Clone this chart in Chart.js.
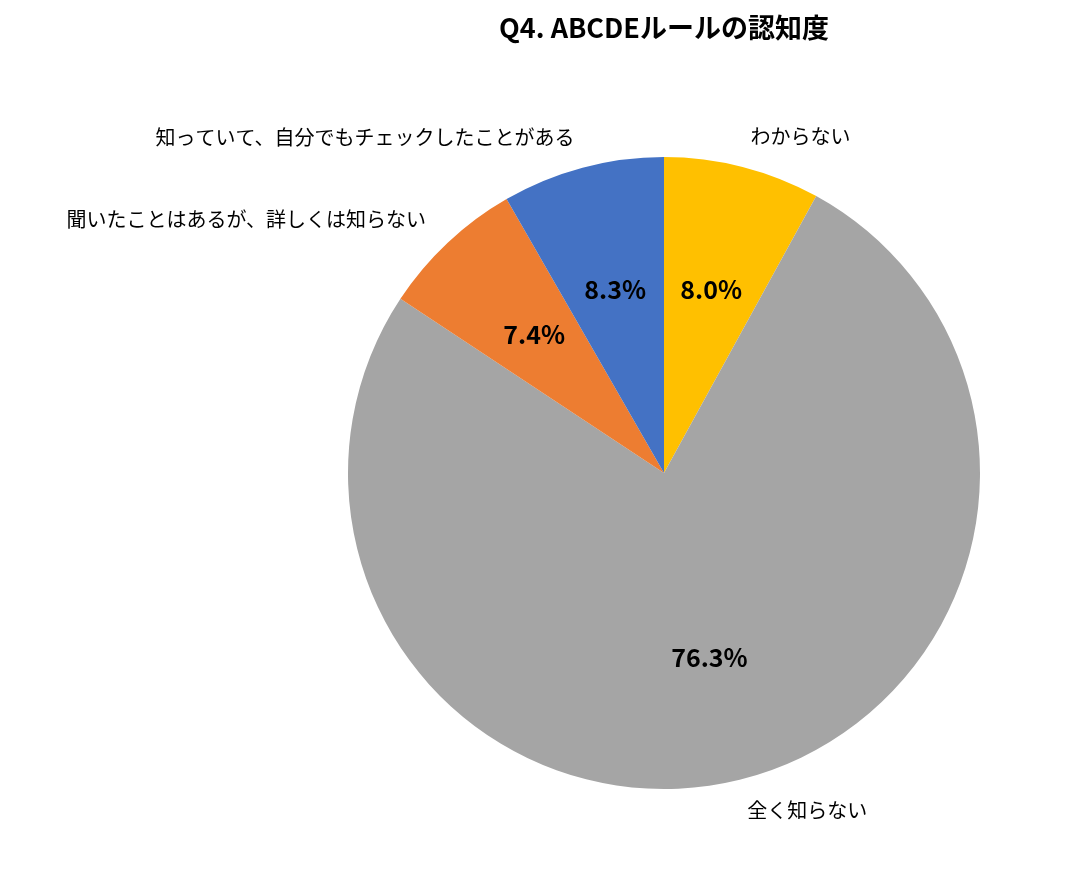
<!DOCTYPE html>
<html>
<head>
<meta charset="utf-8">
<script src="https://cdn.jsdelivr.net/npm/chart.js@4"></script>
<style>
  html, body { margin: 0; padding: 0; background: #fff; }
  #wrap { width: 1074px; height: 883px; }
</style>
</head>
<body>
<div id="wrap"><canvas id="pie"></canvas></div>
<script>
const chartTitle = "Q4. ABCDEルールの認知度";
const categories = ["わからない", "全く知らない", "聞いたことはあるが、詳しくは知らない", "知っていて、自分でもチェックしたことがある"];
const values = [8.0, 76.3, 7.4, 8.3];
const colors = ["#FFC000", "#A5A5A5", "#ED7D31", "#4472C4"];

const FONT = '"Noto Sans CJK JP", "Noto Sans", sans-serif';

// Draw title, category labels outside and percentages inside
const labelPlugin = {
  id: "labelPlugin",
  afterDraw(chart) {
    const ctx = chart.ctx;
    ctx.save();
    ctx.fillStyle = "#000";
    ctx.textBaseline = "middle";
    ctx.textAlign = "center";
    ctx.font = "bold 27px " + FONT;
    ctx.fillText(chartTitle, 664, 28);

    const arcs = chart.getDatasetMeta(0).data;
    arcs.forEach((arc, i) => {
      const mid = (arc.startAngle + arc.endAngle) / 2;
      const r = arc.outerRadius;
      const cos = Math.cos(mid), sin = Math.sin(mid);

      ctx.font = "bold 25px " + FONT;
      ctx.textAlign = "center";
      ctx.fillText(values[i].toFixed(1) + "%", arc.x + cos * r * 0.6, arc.y + sin * r * 0.6);

      ctx.font = "20px " + FONT;
      ctx.textAlign = cos >= 0 ? "left" : "right";
      ctx.fillText(categories[i], arc.x + cos * r * 1.1, arc.y + sin * r * 1.1);
    });
    ctx.restore();
  }
};

new Chart(document.getElementById("pie"), {
  type: "pie",
  data: {
    labels: categories,
    datasets: [{
      data: values,
      backgroundColor: colors,
      borderWidth: 0
    }]
  },
  options: {
    responsive: true,
    maintainAspectRatio: false,
    animation: false,
    layout: { padding: { top: 157, bottom: 94, left: 348, right: 94 } },
    plugins: {
      legend: { display: false },
      tooltip: { enabled: false },
      title: { display: false }
    }
  },
  plugins: [labelPlugin]
});
</script>
</body>
</html>
